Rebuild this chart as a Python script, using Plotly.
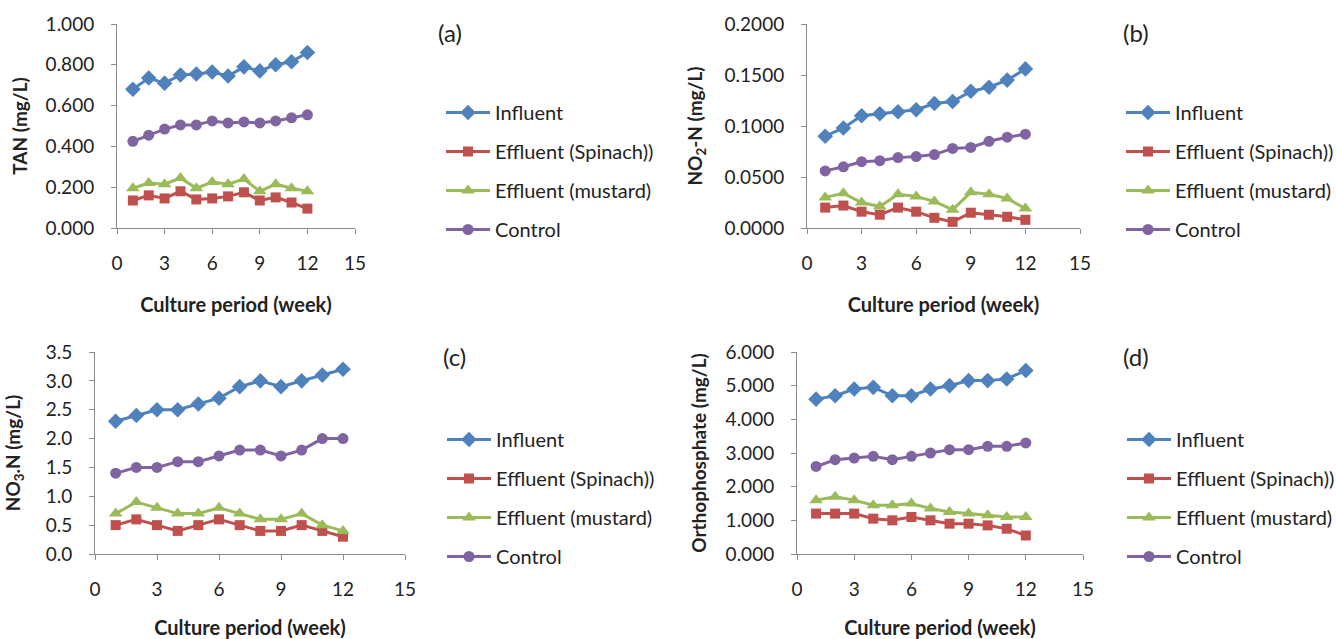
import plotly.graph_objects as go

weeks = [1, 2, 3, 4, 5, 6, 7, 8, 9, 10, 11, 12]
series_names = ["Influent", "Effluent (Spinach))", "Effluent (mustard)", "Control"]

# (a) TAN
tan_influent = [0.680, 0.735, 0.710, 0.750, 0.755, 0.765, 0.745, 0.790, 0.770, 0.800, 0.815, 0.860]
tan_spinach = [0.135, 0.160, 0.145, 0.180, 0.140, 0.145, 0.155, 0.175, 0.135, 0.150, 0.125, 0.095]
tan_mustard = [0.195, 0.220, 0.215, 0.245, 0.195, 0.225, 0.215, 0.240, 0.180, 0.215, 0.195, 0.180]
tan_control = [0.425, 0.455, 0.485, 0.505, 0.505, 0.525, 0.515, 0.520, 0.515, 0.525, 0.540, 0.555]

# (b) NO2-N
no2_influent = [0.090, 0.098, 0.110, 0.112, 0.114, 0.116, 0.122, 0.124, 0.134, 0.138, 0.145, 0.156]
no2_spinach = [0.020, 0.022, 0.016, 0.013, 0.020, 0.016, 0.010, 0.006, 0.015, 0.013, 0.011, 0.008]
no2_mustard = [0.030, 0.034, 0.025, 0.021, 0.033, 0.031, 0.026, 0.018, 0.035, 0.033, 0.029, 0.019]
no2_control = [0.056, 0.060, 0.065, 0.066, 0.069, 0.070, 0.072, 0.078, 0.079, 0.085, 0.089, 0.092]

# (c) NO3-N
no3_influent = [2.3, 2.4, 2.5, 2.5, 2.6, 2.7, 2.9, 3.0, 2.9, 3.0, 3.1, 3.2]
no3_spinach = [0.5, 0.6, 0.5, 0.4, 0.5, 0.6, 0.5, 0.4, 0.4, 0.5, 0.4, 0.3]
no3_mustard = [0.7, 0.9, 0.8, 0.7, 0.7, 0.8, 0.7, 0.6, 0.6, 0.7, 0.5, 0.4]
no3_control = [1.4, 1.5, 1.5, 1.6, 1.6, 1.7, 1.8, 1.8, 1.7, 1.8, 2.0, 2.0]

# (d) Orthophosphate
po4_influent = [4.60, 4.70, 4.90, 4.95, 4.70, 4.70, 4.90, 5.00, 5.15, 5.15, 5.20, 5.45]
po4_spinach = [1.20, 1.20, 1.20, 1.05, 1.00, 1.10, 1.00, 0.90, 0.90, 0.85, 0.75, 0.55]
po4_mustard = [1.60, 1.70, 1.60, 1.45, 1.45, 1.50, 1.35, 1.25, 1.20, 1.15, 1.10, 1.10]
po4_control = [2.60, 2.80, 2.85, 2.90, 2.80, 2.90, 3.00, 3.10, 3.10, 3.20, 3.20, 3.30]

x_ticks = [0, 3, 6, 9, 12, 15]

W, H = 1336, 639
FONT = "Lato"
colors = ["#4F81BD", "#C0504D", "#9BBB59", "#8064A2"]
symbols = ["diamond", "square", "triangle-up", "circle"]
msizes = [12, 10, 12, 11]


def px_x(v):
    return v / W


def px_y(v):
    return 1 - v / H


panels = [
    dict(data=[tan_influent, tan_spinach, tan_mustard, tan_control],
         xdom=(117, 355), ydom=(228, 24), yrange=[0, 1.0], dtick=0.2, fmt=".3f",
         ytitle="<b>TAN (mg/L)</b>", ystand=12,
         label="(a)", lab=(436, 32), leg=(441, 93)),
    dict(data=[no2_influent, no2_spinach, no2_mustard, no2_control],
         xdom=(807, 1080), ydom=(228, 24), yrange=[0, 0.2], dtick=0.05, fmt=".4f",
         ytitle="<b>NO<sub>2</sub>-N (mg/L)</b>", ystand=16,
         label="(b)", lab=(1121, 32), leg=(1121, 93)),
    dict(data=[no3_influent, no3_spinach, no3_mustard, no3_control],
         xdom=(95, 405), ydom=(554, 352), yrange=[0, 3.5], dtick=0.5, fmt=".1f",
         ytitle="<b>NO<sub>3</sub>.N (mg/L)</b>", ystand=20,
         label="(c)", lab=(441, 356), leg=(442, 420)),
    dict(data=[po4_influent, po4_spinach, po4_mustard, po4_control],
         xdom=(797, 1083), ydom=(554, 352), yrange=[0, 6.0], dtick=1.0, fmt=".3f",
         ytitle="<b>Orthophosphate (mg/L)</b>", ystand=13,
         label="(d)", lab=(1121, 356), leg=(1122, 420)),
]

fig = go.Figure()
layout = dict(
    width=W, height=H, margin=dict(l=0, r=0, t=0, b=0, autoexpand=False),
    paper_bgcolor="white", plot_bgcolor="white",
    font=dict(family=FONT, color="#222222", size=16),
    annotations=[],
)

for i, p in enumerate(panels):
    n = i + 1
    xa = "xaxis" if n == 1 else f"xaxis{n}"
    ya = "yaxis" if n == 1 else f"yaxis{n}"
    xr = "x" if n == 1 else f"x{n}"
    yr = "y" if n == 1 else f"y{n}"
    lg = "legend" if n == 1 else f"legend{n}"
    for k, vals in enumerate(p["data"]):
        fig.add_trace(go.Scatter(
            x=weeks, y=vals, name=series_names[k], mode="lines+markers",
            line=dict(color=colors[k], width=3),
            marker=dict(symbol=symbols[k], size=msizes[k], color=colors[k]),
            xaxis=xr, yaxis=yr, legend=lg, legendgroup=f"{n}-{k}",
            cliponaxis=False,
        ))
    layout[xa] = dict(
        domain=[px_x(p["xdom"][0]), px_x(p["xdom"][1])], anchor=yr,
        range=[0, 15], tickvals=x_ticks, showgrid=False, zeroline=False,
        showline=True, linecolor="#8C8C8C", linewidth=1, automargin=False,
        ticks="outside", ticklen=5, tickcolor="#8C8C8C",
        ticklabelstandoff=13, tickfont=dict(size=19),
        title=dict(text="<b>Culture period (week)</b>", font=dict(size=20), standoff=25),
    )
    layout[ya] = dict(
        domain=[px_y(p["ydom"][0]), px_y(p["ydom"][1])], anchor=xr,
        range=p["yrange"], dtick=p["dtick"], tickformat=p["fmt"],
        showgrid=False, zeroline=False, automargin=False,
        showline=True, linecolor="#8C8C8C", linewidth=1,
        ticks="outside", ticklen=5, tickcolor="#8C8C8C",
        ticklabelstandoff=13, tickfont=dict(size=19),
        title=dict(text=p["ytitle"], font=dict(size=19), standoff=p["ystand"]),
    )
    layout[lg] = dict(
        x=px_x(p["leg"][0]), y=px_y(p["leg"][1]), xanchor="left", yanchor="top",
        font=dict(size=20), tracegroupgap=10, bgcolor="rgba(0,0,0,0)",
        itemwidth=44,
    )
    layout["annotations"].append(dict(
        text=p["label"], x=px_x(p["lab"][0]), y=px_y(p["lab"][1]),
        xref="paper", yref="paper", xanchor="left", yanchor="middle",
        showarrow=False, font=dict(size=24),
    ))

fig.update_layout(**layout)
fig.write_html(
    "out.html",
    config={"displayModeBar": False},
    post_script="document.body.style.margin='0';document.body.style.overflow='hidden';",
)
